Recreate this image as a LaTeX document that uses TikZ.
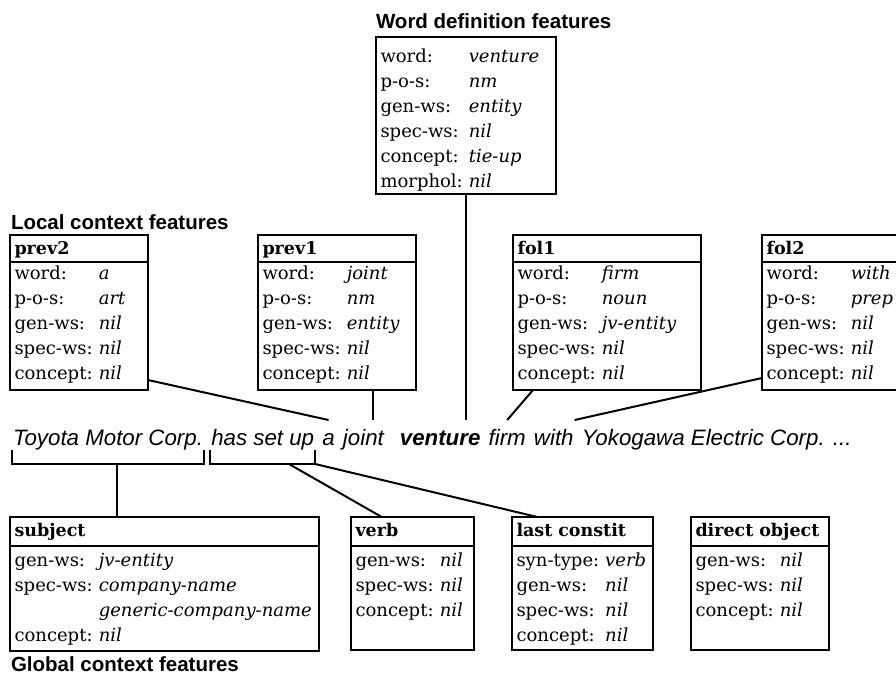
\documentclass[tikz,border=0pt]{standalone}
\usepackage{fontspec}
\usepackage{array}
\setmainfont{DejaVu Serif}
\newfontfamily\sansfont{Liberation Sans}
\usetikzlibrary{positioning,calc}

\newcommand\boxfont{\fontsize{18}{25}\selectfont}
\newcommand\feats[1]{\begin{tabular}[t]{@{}l@{\hspace{6pt}}>{\itshape}l@{}}#1\end{tabular}}

\tikzset{
  title/.style={anchor=base west, inner sep=0pt, font=\sansfont\bfseries\fontsize{20.5}{23}\selectfont},
  word/.style={inner sep=0pt, text height=24pt, text depth=4pt, font=\sansfont\itshape\fontsize{22.3}{26}\selectfont},
  fhead/.style={draw, anchor=north west, outer sep=0pt, inner xsep=4.5pt, inner ysep=0pt, font=\bfseries\fontsize{17.5}{25}\selectfont},
  fbody/.style={draw, anchor=north west, outer sep=0pt, inner xsep=4.5pt, inner ysep=0pt, font=\boxfont},
}

\begin{document}
\begin{tikzpicture}[x=1pt, y=-1pt, line width=2pt]
  \useasboundingbox (0,0) rectangle (896,675);

  % word definition features
  \node[title] (tdef) at (375,28) {Word definition features};
  \node[fbody, text width=171pt, text height=25pt, text depth=132pt] (worddef) at (376,37)
    {\feats{word: & venture\\ p-o-s: & nm\\ gen-ws: & entity\\ spec-ws: & nil\\ concept: & tie-up\\ morphol: & nil}};

  % local context features
  \node[title] (tlocal) at (10,229) {Local context features};
  \node[fhead, text width=129pt, text height=19pt, text depth=8pt] (prev2) at (10,235) {prev2};
  \node[fbody, text width=129pt, text height=17pt, text depth=111pt] (prev2b) at (prev2.south west)
    {\feats{word: & a\\ p-o-s: & art\\ gen-ws: & nil\\ spec-ws: & nil\\ concept: & nil}};
  \node[fhead, text width=149pt, text height=19pt, text depth=8pt] (prev1) at (258,235) {prev1};
  \node[fbody, text width=149pt, text height=17pt, text depth=111pt] (prev1b) at (prev1.south west)
    {\feats{word: & joint\\ p-o-s: & nm\\ gen-ws: & entity\\ spec-ws: & nil\\ concept: & nil}};
  \node[fhead, text width=179pt, text height=19pt, text depth=8pt] (fol1) at (513,235) {fol1};
  \node[fbody, text width=179pt, text height=17pt, text depth=111pt] (fol1b) at (fol1.south west)
    {\feats{word: & firm\\ p-o-s: & noun\\ gen-ws: & jv-entity\\ spec-ws: & nil\\ concept: & nil}};
  \node[fhead, text width=129pt, text height=19pt, text depth=8pt] (fol2) at (762,235) {fol2};
  \node[fbody, text width=129pt, text height=17pt, text depth=111pt] (fol2b) at (fol2.south west)
    {\feats{word: & with\\ p-o-s: & prep\\ gen-ws: & nil\\ spec-ws: & nil\\ concept: & nil}};

  % the sentence
  \node[word, anchor=base west] (toyota) at (12,445) {Toyota Motor Corp.};
  \node[word, base right=6.2pt of toyota] (hassetup) {has set up};
  \node[word, base right=6.2pt of hassetup] (a) {a};
  \node[word, base right=6.2pt of a] (joint) {joint};
  \node[word, base right=14pt of joint, font=\sansfont\bfseries\itshape\fontsize{22.3}{26}\selectfont] (venture) {venture};
  \node[word, base right=6.2pt of venture] (firm) {firm};
  \node[word, base right=6.2pt of firm] (with) {with};
  \node[word, base right=6.2pt of with] (rest) {Yokogawa Electric Corp. ...};

  % links up
  \draw (worddef.south) -- (worddef.south |- venture.north);
  \draw ($(prev2b.south east)+(0,-10)$) -- (a.north);
  \coordinate (p1foot) at ($(prev1b.south west)!.73!(prev1b.south east)$);
  \draw (p1foot) -- (p1foot |- joint.north);
  \draw ($(fol1b.south west)+(20,0)$) -- (firm.north);
  \draw ($(fol2b.south west)+(0,-12)$) -- (with.north east);

  % brackets
  \draw (toyota.south west) -- ++(0,14) -| (toyota.south east);
  \draw (hassetup.south west) -- ++(0,14) -| (hassetup.south east);
  \coordinate (subjbr) at ($(toyota.south)+(9,14)$);
  \coordinate (vpbr) at ($(hassetup.south west)!.75!(hassetup.south east)+(0,14)$);
  \coordinate (vpend) at ($(hassetup.south east)+(0,14)$);

  % global context features
  \node[fhead, text width=300pt, text height=19pt, text depth=10pt] (subject) at (10,517) {subject};
  \node[fbody, text width=300pt, text height=20pt, text depth=85pt] (subjectb) at (subject.south west)
    {\feats{gen-ws: & jv-entity\\ spec-ws: & company-name\\ & generic-company-name\\ concept: & nil}};
  \node[fhead, text width=114pt, text height=19pt, text depth=10pt] (verb) at (351,517) {verb};
  \node[fbody, text width=114pt, text height=20pt, text depth=84pt] (verbb) at (verb.south west)
    {\feats{gen-ws: & nil\\ spec-ws: & nil\\ concept: & nil}};
  \node[fhead, text width=132pt, text height=19pt, text depth=10pt] (last) at (512,517) {last constit};
  \node[fbody, text width=132pt, text height=20pt, text depth=84pt] (lastb) at (last.south west)
    {\feats{syn-type: & verb\\ gen-ws: & nil\\ spec-ws: & nil\\ concept: & nil}};
  \node[fhead, text width=129pt, text height=19pt, text depth=10pt] (dobj) at (691,517) {direct object};
  \node[fbody, text width=129pt, text height=20pt, text depth=84pt] (dobjb) at (dobj.south west)
    {\feats{gen-ws: & nil\\ spec-ws: & nil\\ concept: & nil}};
  \node[title] (tglobal) at (10,671) {Global context features};

  % links down
  \draw (subjbr) -- (subjbr |- subject.north);
  \draw (vpbr) -- ($(verb.north west)!.25!(verb.north east)$);
  \draw (vpend) -- ($(last.north west)!.18!(last.north east)$);
\end{tikzpicture}
\end{document}
